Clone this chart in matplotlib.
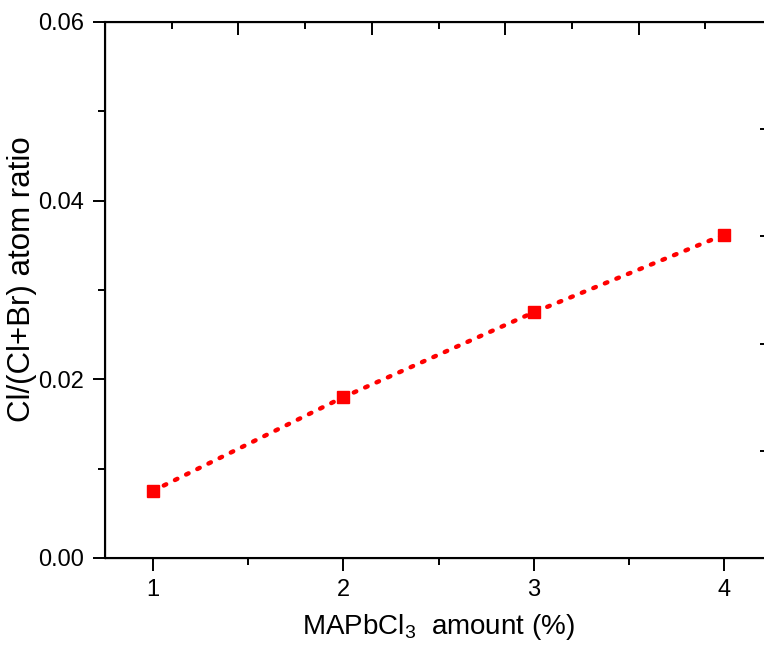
import numpy as np
import matplotlib
matplotlib.use('Agg')
import matplotlib.pyplot as plt
from matplotlib.ticker import MultipleLocator, FormatStrFormatter

plt.rcParams['font.family'] = ['Liberation Sans', 'DejaVu Sans']
plt.rcParams['mathtext.fontset'] = 'custom'
plt.rcParams['mathtext.rm'] = 'Liberation Sans'

# data
amount = [1, 2, 3, 4]
ratio = [0.0075, 0.0180, 0.0275, 0.0362]

fig = plt.figure(figsize=(7.64, 6.46), dpi=100)
ax = fig.add_axes([105 / 764, 88 / 646, 667 / 764, 536 / 646])

ax.plot(amount, ratio, ls=(0, (0.6, 2.2)), lw=3.2, c='red', dash_capstyle='round', zorder=2)
ax.plot(amount, ratio, ls='none', marker='s', ms=9, c='red', mec='red', zorder=3)

ax.set_xlim(0.75, 4.25)
ax.set_ylim(0, 0.06)
ax.xaxis.set_major_locator(MultipleLocator(1))
ax.xaxis.set_minor_locator(MultipleLocator(0.5))
ax.yaxis.set_major_locator(MultipleLocator(0.02))
ax.yaxis.set_minor_locator(MultipleLocator(0.01))
ax.yaxis.set_major_formatter(FormatStrFormatter('%.2f'))
ax.tick_params(which='major', direction='out', length=9, width=1.4, labelsize=17, pad=6)
ax.tick_params(which='minor', direction='out', length=5, width=1.4)
for s in ax.spines.values():
    s.set_linewidth(1.5)

ax.set_xlabel(r'MAPbCl$\mathregular{_3}$  amount (%)', fontsize=20, labelpad=8)
ax.set_ylabel('Cl/(Cl+Br) atom ratio', fontsize=22.5)
ax.yaxis.set_label_coords(-0.102, 0.52)

# top and right axes with their own tick spacing
top = ax.twiny()
top.set_xlim(0, 5)
top.xaxis.set_major_locator(MultipleLocator(1))
top.xaxis.set_minor_locator(MultipleLocator(0.5))
top.tick_params(which='major', direction='in', length=9, width=1.4, labeltop=False)
top.tick_params(which='minor', direction='in', length=5, width=1.4)

right = ax.twinx()
right.set_ylim(0, 5)
right.yaxis.set_major_locator(MultipleLocator(1))
right.yaxis.set_minor_locator(MultipleLocator(0.5))
right.tick_params(which='major', direction='in', length=9, width=1.4, labelright=False)
right.tick_params(which='minor', direction='in', length=5, width=1.4)

plt.savefig('out.png', dpi=100)
